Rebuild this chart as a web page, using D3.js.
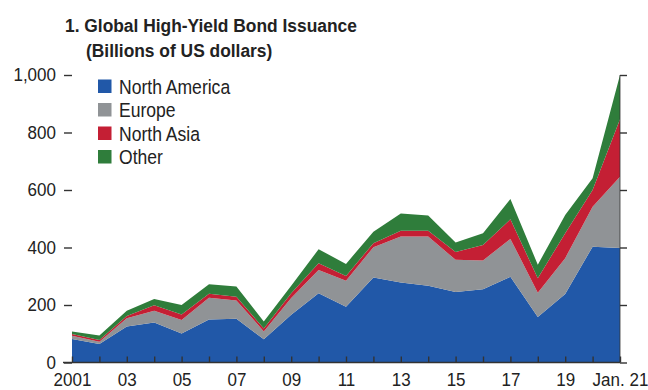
<!DOCTYPE html>
<meta charset="utf-8">
<script src="https://d3js.org/d3.v7.min.js"></script>
<style>
    body { margin: 0; background: #fff; }
    svg { display: block; font-family: "Liberation Sans", Arial, sans-serif; }
</style>
<svg width="648" height="390"></svg>
<script>
    // data (billions of US dollars)
    const years = d3.range(2001, 2022);
    const northAmerica = [82, 64, 125, 139, 101, 150, 152, 81, 166, 241, 194, 296, 278, 267, 245, 255, 298, 158, 238, 403, 398];
    const europe       = [11,  8,  29,  41,  47,  75,  64, 27,  58,  81,  90, 105, 160, 171, 112, 100, 132,  85, 125, 139, 248];
    const northAsia    = [ 6,  6,   8,  19,  19,  14,  13, 10,  17,  23,  17,  14,  20,  20,  27,  54,  68,  50,  87,  58, 200];
    const other        = [ 9, 16,  18,  22,  33,  33,  35, 25,  26,  49,  42,  40,  60,  53,  33,  41,  71,  47,  63,  41, 154];
    const seriesNames = ["North America", "Europe", "North Asia", "Other"];
    const colors = ["#2158a8", "#909396", "#c41f34", "#2f7d3b"];
    const yTicks = [0, 200, 400, 600, 800, 1000];
    const xLabels = ["2001", "03", "05", "07", "09", "11", "13", "15", "17", "19", "Jan. 21"];

    const table = years.map((y, i) => ({
        year: y, "North America": northAmerica[i], "Europe": europe[i],
        "North Asia": northAsia[i], "Other": other[i]
    }));

    // the original type is a condensed face, so squeeze Liberation Sans a bit
    function squeeze(sel, k) {
        sel.each(function () {
            const t = d3.select(this), x0 = +t.attr("x") || 0;
            t.attr("x", x0 / k).attr("transform", `scale(${k},1)`);
        });
    }

    const svg = d3.select("svg");
    const x = d3.scaleLinear().domain([2001, 2021]).range([72, 620]);
    const y = d3.scaleLinear().domain([0, 1000]).range([362.5, 75]);

    const stack = d3.stack().keys(seriesNames)(table);
    const area = d3.area().x(d => x(d.data.year)).y0(d => y(d[0])).y1(d => y(d[1]));

    svg.append("g").selectAll("path")
        .data(stack)
        .enter().append("path")
        .attr("fill", (d, i) => colors[i])
        .attr("d", area);

    // left axis: ticks only
    const left = svg.append("g").attr("transform", "translate(72,0)")
        .call(d3.axisLeft(y).tickValues(yTicks).tickSize(8).tickPadding(8).tickFormat(d3.format(",")));
    left.select(".domain").remove();
    left.selectAll("line").attr("stroke", "#333").attr("stroke-width", 1.4);
    left.selectAll("text").attr("font-size", 18.5).attr("fill", "#222").attr("font-family", null).call(squeeze, 0.92);

    // right axis
    const right = svg.append("g").attr("transform", "translate(620,0)")
        .call(d3.axisRight(y).tickValues(yTicks).tickSize(7).tickFormat(""));
    right.select(".domain").attr("d", `M0,${y(1000)}V${y(0)}`).attr("stroke", "#333").attr("stroke-width", 0.8);
    right.selectAll("line").attr("stroke", "#333").attr("stroke-width", 1.4);

    // bottom axis: inward ticks
    const bottom = svg.append("g").attr("transform", `translate(0,${y(0)})`)
        .call(d3.axisBottom(x).tickValues(years).tickSize(-6).tickPadding(12).tickFormat(d => {
            const k = (d - 2001) / 2;
            return Number.isInteger(k) ? xLabels[k] : "";
        }));
    bottom.select(".domain").attr("d", `M63,0H620`).attr("stroke", "#333").attr("stroke-width", 1.4);
    bottom.selectAll("line").attr("stroke", "#333").attr("stroke-width", 1.4);
    bottom.selectAll("text").attr("font-size", 18.5).attr("fill", "#222").attr("font-family", null)
        .attr("dy", "0.62em").call(squeeze, 0.92);

    // title
    const title = svg.append("g").attr("font-weight", "bold").attr("font-size", 18.5).attr("fill", "#222");
    title.append("text").attr("x", 65).attr("y", 32).text("1. Global High-Yield Bond Issuance");
    title.append("text").attr("x", 86).attr("y", 57).text("(Billions of US dollars)");
    title.selectAll("text").call(squeeze, 0.94);

    // legend
    const legend = svg.append("g").selectAll("g")
        .data(seriesNames)
        .enter().append("g")
        .attr("transform", (d, i) => `translate(98,${79.5 + i * 23.5})`);
    legend.append("rect").attr("width", 13.5).attr("height", 13.5).attr("fill", (d, i) => colors[i]);
    legend.append("text").attr("x", 21).attr("y", 14).attr("font-size", 19.5).attr("fill", "#222")
        .text(d => d).call(squeeze, 0.9);
</script>
